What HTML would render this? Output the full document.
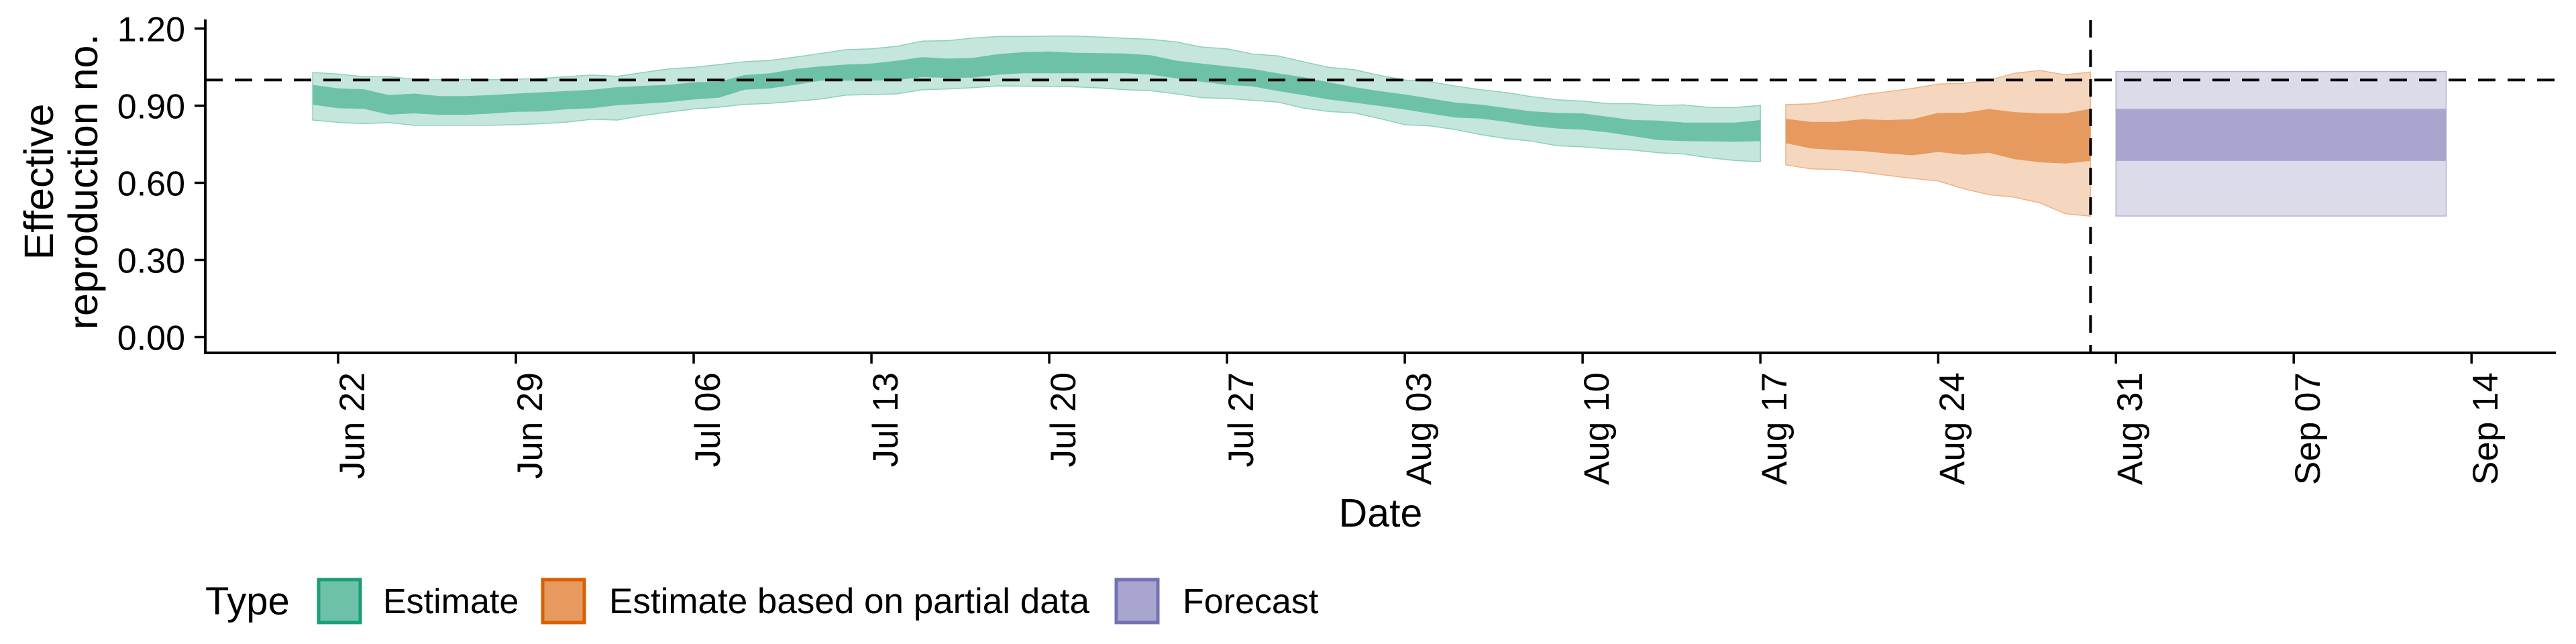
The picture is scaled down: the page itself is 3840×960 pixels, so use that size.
<!DOCTYPE html>
<html><head><meta charset="utf-8"><style>
html,body{margin:0;padding:0;background:#fff;}
svg{display:block;font-family:"Liberation Sans",sans-serif;}
</style></head><body>
<svg id="chart" width="3840" height="960" viewBox="0 0 3840 960" xmlns="http://www.w3.org/2000/svg">
<g id="bands"></g>
<g id="axes"></g>
<text transform="translate(79,271) rotate(-90)" text-anchor="middle" font-size="61">Effective</text>
<text transform="translate(145,271) rotate(-90)" text-anchor="middle" font-size="61">reproduction no.</text>
<text x="2058" y="785" text-anchor="middle" font-size="59">Date</text>
<g>
<text x="306" y="916" font-size="58">Type</text>
<rect x="475" y="864" width="62" height="64" fill="#6EC1A9" stroke="#1B9E77" stroke-width="5"/>
<text x="571" y="914" font-size="52">Estimate</text>
<rect x="809" y="864" width="62" height="64" fill="#E69A5F" stroke="#D95F02" stroke-width="5"/>
<text x="908" y="914" font-size="53">Estimate based on partial data</text>
<rect x="1664" y="864" width="62" height="64" fill="#A8A6CF" stroke="#7570B3" stroke-width="5"/>
<text x="1763" y="914" font-size="52">Forecast</text>
</g>
</svg>
<script>
// ---- data ----
const estStart = '2020-06-21';
const estOuterHi = [1.029,1.023,1.013,1.013,1.003,1.001,1.001,1.001,1.003,1.006,1.013,1.019,1.014,1.029,1.043,1.049,1.060,1.071,1.076,1.089,1.103,1.118,1.121,1.131,1.151,1.153,1.163,1.169,1.169,1.171,1.171,1.167,1.162,1.158,1.148,1.128,1.121,1.101,1.094,1.071,1.049,1.040,1.018,1.000,0.993,0.976,0.962,0.951,0.935,0.923,0.918,0.908,0.908,0.901,0.903,0.893,0.893,0.901];
const estInnerHi = [0.981,0.967,0.964,0.941,0.947,0.937,0.937,0.941,0.947,0.952,0.957,0.962,0.972,0.977,0.981,0.991,0.993,1.019,1.026,1.043,1.053,1.060,1.064,1.075,1.089,1.083,1.086,1.101,1.108,1.111,1.106,1.104,1.103,1.096,1.075,1.064,1.053,1.043,1.026,1.011,0.991,0.972,0.957,0.944,0.928,0.912,0.904,0.891,0.878,0.872,0.870,0.857,0.844,0.842,0.834,0.834,0.834,0.844];
const estInnerLo = [0.904,0.890,0.888,0.865,0.870,0.864,0.864,0.869,0.876,0.877,0.886,0.890,0.902,0.907,0.914,0.924,0.931,0.962,0.967,0.981,0.997,0.997,0.997,1.000,1.011,1.008,1.009,1.021,1.026,1.026,1.026,1.026,1.026,1.021,1.006,0.993,0.981,0.975,0.957,0.941,0.924,0.912,0.899,0.885,0.869,0.854,0.850,0.837,0.821,0.811,0.807,0.796,0.781,0.766,0.762,0.761,0.760,0.762];
const estOuterLo = [0.844,0.835,0.830,0.834,0.824,0.824,0.824,0.824,0.826,0.830,0.836,0.847,0.844,0.862,0.875,0.887,0.894,0.905,0.909,0.917,0.926,0.941,0.943,0.946,0.962,0.965,0.970,0.977,0.976,0.975,0.973,0.969,0.962,0.958,0.946,0.931,0.928,0.921,0.914,0.891,0.877,0.872,0.850,0.826,0.821,0.807,0.787,0.772,0.762,0.744,0.740,0.732,0.727,0.717,0.712,0.697,0.687,0.682];
const partStart = '2020-08-18';
const partOuterHi = [0.904,0.907,0.922,0.942,0.954,0.967,0.984,0.987,0.999,1.026,1.037,1.020,1.031];
const partInnerHi = [0.849,0.837,0.837,0.847,0.844,0.847,0.872,0.872,0.887,0.875,0.870,0.870,0.888];
const partInnerLo = [0.754,0.734,0.727,0.724,0.714,0.707,0.720,0.709,0.717,0.692,0.680,0.675,0.685];
const partOuterLo = [0.670,0.654,0.652,0.642,0.629,0.617,0.607,0.577,0.554,0.544,0.522,0.480,0.470];
const fcStart = '2020-08-31';
const fcOuterHi = [1.033,1.033,1.033,1.033,1.033,1.033,1.033,1.033,1.033,1.033,1.033,1.033,1.033,1.033];
const fcInnerHi = [0.888,0.888,0.888,0.888,0.888,0.888,0.888,0.888,0.888,0.888,0.888,0.888,0.888,0.888];
const fcInnerLo = [0.685,0.685,0.685,0.685,0.685,0.685,0.685,0.685,0.685,0.685,0.685,0.685,0.685,0.685];
const fcOuterLo = [0.471,0.471,0.471,0.471,0.471,0.471,0.471,0.471,0.471,0.471,0.471,0.471,0.471,0.471];
const yTicks = [0, 0.3, 0.6, 0.9, 1.2];
const yTickLabels = ['0.00','0.30','0.60','0.90','1.20'];
const xTickDates = ['2020-06-22','2020-06-29','2020-07-06','2020-07-13','2020-07-20','2020-07-27','2020-08-03','2020-08-10','2020-08-17','2020-08-24','2020-08-31','2020-09-07','2020-09-14'];
const xTickLabels = ['Jun 22','Jun 29','Jul 06','Jul 13','Jul 20','Jul 27','Aug 03','Aug 10','Aug 17','Aug 24','Aug 31','Sep 07','Sep 14'];
const refValue = 1.0;
const cutoffDate = '2020-08-30';

// ---- scales ----
const NS = 'http://www.w3.org/2000/svg';
const DAY = 86400000;
const origin = Date.parse('2020-06-22');
const X0 = 306, X1 = 3810, Y0 = 526, YTOP = 29;
function xs(d){ return 504 + d * 37.86; }
function xDate(s){ return xs((Date.parse(s) - origin) / DAY); }
function ys(v){ return 502.5 - v * 383.3; }
function mk(tag, attrs, parent){ const e = document.createElementNS(NS, tag); for (const k in attrs) e.setAttribute(k, attrs[k]); parent.appendChild(e); return e; }

const bands = document.getElementById('bands');
function ribbon(start, hi, lo, fill, stroke, name){
  const d0 = (Date.parse(start) - origin) / DAY;
  let pts = [];
  for (let i = 0; i < hi.length; i++) pts.push(xs(d0 + i).toFixed(1) + ',' + ys(hi[i]).toFixed(1));
  for (let i = lo.length - 1; i >= 0; i--) pts.push(xs(d0 + i).toFixed(1) + ',' + ys(lo[i]).toFixed(1));
  const p = mk('polygon', {points: pts.join(' '), fill: fill, stroke: stroke, 'stroke-width': stroke === 'none' ? 0 : 1.5}, bands);
  
  
}
ribbon(estStart, estOuterHi, estOuterLo, '#C4E6DC', '#8FD0BC', 'estimate-90ci');
ribbon(estStart, estInnerHi, estInnerLo, '#6EC1A9', 'none', 'estimate-50ci');
ribbon(partStart, partOuterHi, partOuterLo, '#F5D6BE', '#EDB48A', 'partial-90ci');
ribbon(partStart, partInnerHi, partInnerLo, '#E69A5F', 'none', 'partial-50ci');
ribbon(fcStart, fcOuterHi, fcOuterLo, '#DCDBEA', '#B3B1D5', 'forecast-90ci');
ribbon(fcStart, fcInnerHi, fcInnerLo, '#A8A6CF', 'none', 'forecast-50ci');

const axes = document.getElementById('axes');
const hl = mk('line', {x1: X0, x2: X1, y1: ys(refValue), y2: ys(refValue), stroke: '#000', 'stroke-width': 4, 'stroke-dasharray': '26 18'}, axes);


const vl = mk('line', {x1: xDate(cutoffDate), x2: xDate(cutoffDate), y1: 30, y2: Y0, stroke: '#000', 'stroke-width': 4, 'stroke-dasharray': '26 18'}, axes);


const ya = mk('line', {x1: X0, x2: X0, y1: YTOP, y2: Y0 + 2, stroke: '#000', 'stroke-width': 4}, axes);


const xa = mk('line', {x1: X0 - 2, x2: X1, y1: Y0, y2: Y0, stroke: '#000', 'stroke-width': 4}, axes);


yTicks.forEach((v, i) => {
  const t = mk('line', {x1: 290, x2: X0, y1: ys(v), y2: ys(v), stroke: '#000', 'stroke-width': 3.5}, axes);
  
  
  const l = mk('text', {x: 276, y: ys(v) + 19, 'text-anchor': 'end', 'font-size': 52, fill: '#000'}, axes);
  l.textContent = yTickLabels[i];
  
  
});
xTickDates.forEach((s, i) => {
  const x = xDate(s);
  const t = mk('line', {x1: x, x2: x, y1: Y0, y2: 542, stroke: '#000', 'stroke-width': 3.5}, axes);
  
  
  const l = mk('text', {transform: 'translate(' + (x + 39) + ',555) rotate(-90)', 'text-anchor': 'end', 'font-size': 53, fill: '#000'}, axes);
  l.textContent = xTickLabels[i];
  
  
});
</script>
</body></html>
